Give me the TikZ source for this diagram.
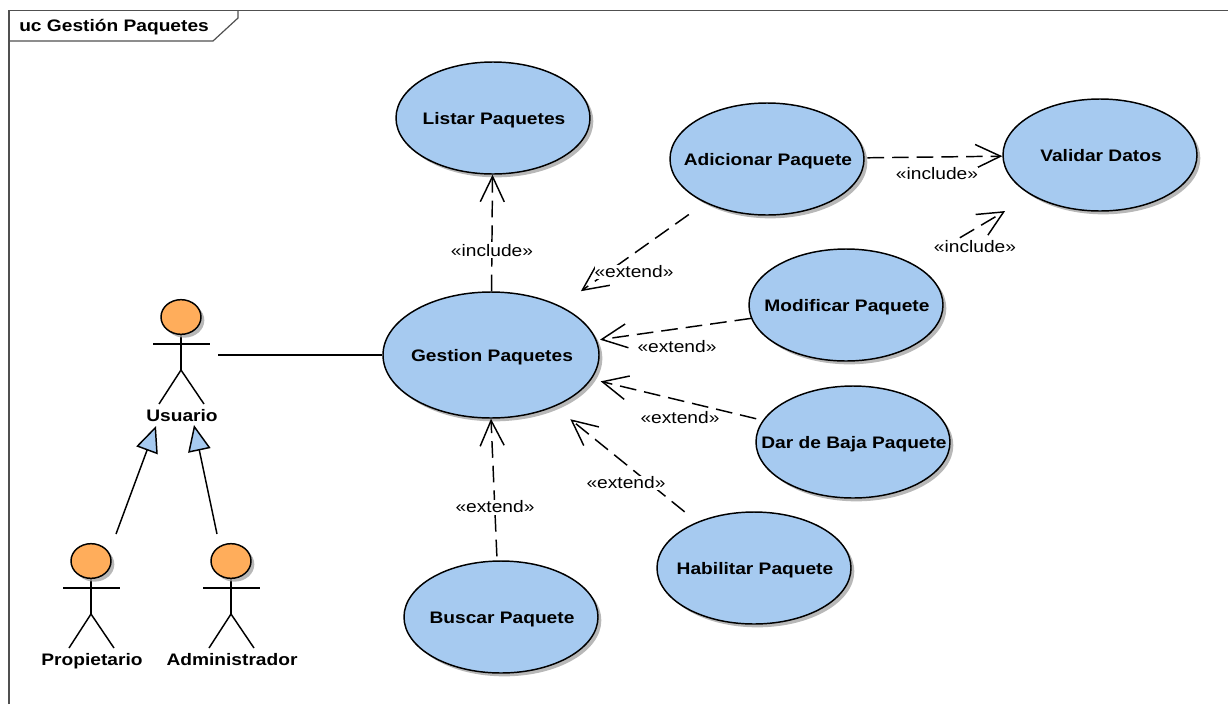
\documentclass[tikz,border=0pt]{standalone}
\usepackage{fontspec}
\setmainfont[FakeStretch=1.15]{Liberation Sans}
\usetikzlibrary{arrows.meta,shapes.geometric,shadows}
\definecolor{caseblue}{HTML}{A6CAF0}
\definecolor{actororange}{HTML}{FFAD5B}
\definecolor{framegray}{HTML}{505050}
\tikzset{
  usecase/.style={ellipse,draw=black,line width=1.1pt,fill=caseblue,minimum width=145.5pt,minimum height=84pt,inner sep=0pt,
    font=\fontsize{12.5}{15}\selectfont\bfseries,drop shadow={shadow xshift=2.5pt,shadow yshift=-2.5pt,fill=black!35,opacity=0.8}},
  actorhead/.style={ellipse,draw=black,line width=1.1pt,fill=actororange,minimum width=30pt,minimum height=26pt,inner sep=0pt,
    drop shadow={shadow xshift=2.5pt,shadow yshift=-2.5pt,fill=black!35,opacity=0.8}},
  actorline/.style={line width=1.1pt},
  actorname/.style={font=\fontsize{12.5}{15}\selectfont\bfseries,inner sep=0pt,text height=9pt,text depth=2.7pt},
  stereotype/.style={font=\fontsize{12.5}{15}\selectfont,inner xsep=0pt,inner ysep=1pt,fill=white},
  dep/.style={line width=1.1pt,dash pattern=on 12.5pt off 6pt,-{Straight Barb[length=19pt,width=18pt,line width=1.1pt]}},
  gen/.style={line width=1.1pt,-{Triangle[length=19.5pt,width=17pt,fill=caseblue,line width=1.1pt]}},
}
\newcommand{\Actor}[4]{%
  \draw[actorline] (#2,#3+17) -- (#2,#3+53) (#2-28,#3+27) -- (#2+29,#3+27);
  \draw[actorline] (#2-22,#3+87) -- (#2,#3+53) -- (#2+23,#3+87);
  \node[actorhead] (#1) at (#2,#3) {};
  \node[actorname] (#1name) at (#2+1,#3+100.3) {#4};
}
\newcommand{\CaseText}[1]{\makebox[0pt]{\hspace{1.5pt}\raisebox{-1.7pt}[8pt][2pt]{#1}}}
\begin{document}
\begin{tikzpicture}[x=0.75pt,y=-0.75pt]
  \useasboundingbox (0,0) rectangle (1228,704);
  % frame
  \draw[framegray,line width=0.9pt] (9,704) -- (9,10.5) -- (1228,10.5);
  \draw[framegray,line width=0.9pt] (9,41) -- (213,41) -- (238,18) -- (238,10.5);
  \node[actorname,anchor=west] (title) at (19,27) {uc Gestión Paquetes};
  % use cases
  \node[usecase] (listar) at (493,118) {\CaseText{Listar Paquetes}};
  \node[usecase] (adicionar) at (767,159) {\CaseText{Adicionar Paquete}};
  \node[usecase] (validar) at (1100,155) {\CaseText{Validar Datos}};
  \node[usecase,minimum width=162pt,minimum height=94.5pt] (gestion) at (491,355) {\CaseText{Gestion Paquetes}};
  \node[usecase] (modificar) at (846,305) {\CaseText{Modificar Paquete}};
  \node[usecase] (baja) at (853,442) {\CaseText{Dar de Baja Paquete}};
  \node[usecase] (habilitar) at (754,568) {\CaseText{Habilitar Paquete}};
  \node[usecase] (buscar) at (501,617) {\CaseText{Buscar Paquete}};
  % actors
  \Actor{usuario}{181}{317}{Usuario}
  \Actor{propietario}{91}{561}{Propietario}
  \Actor{administrador}{231}{561}{Administrador}
  \coordinate (usuarioR) at (218,355);
  \coordinate (usuarioL) at (156,426);
  \coordinate (usuarioM) at (194,425);
  \coordinate (propietarioT) at (116,534);
  \coordinate (administradorT) at (217,534);
  \draw[actorline] (usuarioR) -- (gestion);
  \draw[gen] (propietarioT) -- (usuarioL);
  \draw[gen] (administradorT) -- (usuarioM);
  % dependencies
  \draw[dep] (gestion) -- (listar);
  \draw[dep,shorten <=2pt] (adicionar) -- (validar);
  \draw[dep,shorten <=21pt,shorten >=23pt] (modificar) -- (validar);
  \draw[dep,shorten <=15pt,shorten >=19pt] (adicionar) -- (gestion);
  \draw[dep,shorten >=2.5pt] (modificar) -- (gestion);
  \draw[dep,shorten <=5pt,shorten >=7pt] (baja) -- (gestion);
  \draw[dep,shorten <=12pt,shorten >=15pt] (habilitar) -- (gestion);
  \draw[dep,shorten <=3pt] (buscar.94) -- (gestion.south);
  % labels
  \node[stereotype] (inc1) at (492,251) {«include»};
  \node[stereotype] (inc2) at (937,174) {«include»};
  \node[stereotype] (inc3) at (975,247) {«include»};
  \node[stereotype] (ext1) at (634,272) {«extend»};
  \node[stereotype] (ext2) at (677,347) {«extend»};
  \node[stereotype] (ext3) at (680,418) {«extend»};
  \node[stereotype] (ext4) at (626,483) {«extend»};
  \node[stereotype] (ext5) at (495,507) {«extend»};
\end{tikzpicture}
\end{document}
